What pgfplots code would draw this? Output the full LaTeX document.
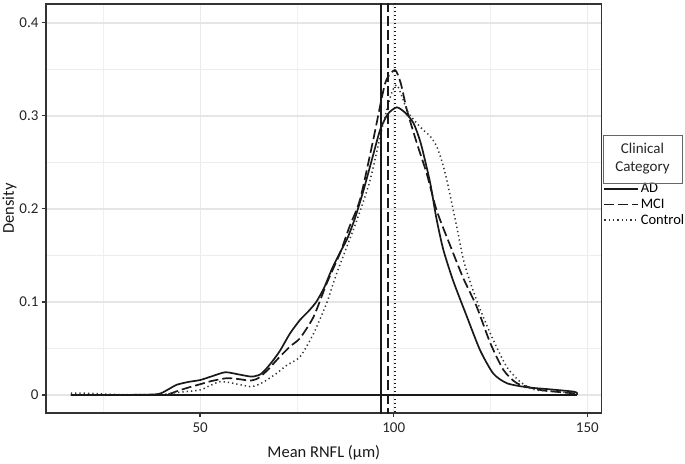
\documentclass[border=0pt]{standalone}
\usepackage{fontspec}
\setmainfont{Carlito}
\usepackage{pgfplots}
\pgfplotsset{compat=1.18}

% density estimates
\pgfplotstableread{
x y
16.6 0
30 0
38 0.0005
40 0.002
42 0.0065
44 0.011
47 0.014
50 0.016
53 0.02
56.5 0.0244
60 0.022
63.3 0.0197
65.5 0.022
67.2 0.0287
69 0.038
70.7 0.048
73.2 0.066
75.8 0.0806
78 0.09
80 0.1
82 0.115
84 0.135
86 0.152
88 0.168
90 0.19
92.2 0.22
94.5 0.255
96.5 0.285
98.5 0.302
100.8 0.309
103 0.303
105.1 0.292
107 0.27
109.4 0.228
111 0.19
112.8 0.156
115.4 0.122
118.9 0.084
122.3 0.048
125.7 0.023
129.2 0.0126
134.3 0.0083
140.4 0.006
146.4 0.0036
147.3 0.002
147.3 0
}\ad

\pgfplotstableread{
x y
16.6 0
40 0
42 0.001
44 0.004
47 0.008
50 0.0115
53 0.015
56.9 0.018
60 0.017
62.9 0.0154
65 0.018
67.5 0.027
69.8 0.0376
73.2 0.052
75.8 0.061
79.3 0.084
82.7 0.12
86.1 0.152
88.5 0.18
91.3 0.21
94.7 0.274
97.8 0.335
100.3 0.349
101.8 0.335
103.4 0.306
106 0.27
108.5 0.238
111.1 0.198
115 0.156
118 0.125
121.4 0.095
124.9 0.056
128.3 0.027
131.8 0.0126
137.8 0.0054
143 0.003
147 0.0015
147 0
}\mci

\pgfplotstableread{
x y
16.6 0.002
20 0.002
25 0.001
30 0.0003
40 0.0005
43 0.002
45 0.003
50 0.0054
52.5 0.01
55.2 0.0143
58 0.013
62.9 0.009
65 0.011
67.2 0.016
70 0.024
72.4 0.032
75.8 0.041
79.3 0.066
82.7 0.099
85.3 0.131
90.5 0.188
93.9 0.231
97.3 0.292
99.5 0.325
100.8 0.333
102 0.322
103.5 0.305
105.1 0.296
107.5 0.285
109.4 0.278
111.1 0.267
112.5 0.25
113.7 0.231
116.3 0.18
118 0.145
120 0.118
122.3 0.092
125.7 0.059
129.2 0.030
132.6 0.0143
136 0.006
140 0.004
147 0.002
147 0
}\ctrl

\begin{document}
\begin{tikzpicture}
\begin{axis}[
    width=555.7pt, height=409pt, scale only axis,
    xmin=10.2, xmax=153.7, ymin=-0.0194, ymax=0.42,
    xtick={50,100,150},
    ytick={0,0.1,0.2,0.3,0.4},
    yticklabels={0,0.1,0.2,0.3,0.4},
    minor xtick={25,75,125},
    minor ytick={0.05,0.15,0.25,0.35},
    grid=both,
    major x grid style={black!8, line width=0.8pt},
    minor x grid style={black!6, line width=0.8pt},
    major y grid style={black!10, line width=2pt},
    minor y grid style={black!7, line width=1pt},
    minor tick length=0pt,
    major tick length=4pt,
    tick align=outside,
    tick pos=left,
    tick style={black!80, line width=1.4pt},
    axis line style={black!80, line width=1.4pt},
    /pgf/number format/assume math mode=true,
    ticklabel style={font=\fontsize{15}{15}\selectfont, text=black!85},
    xticklabel style={yshift=-2pt},
    xlabel={Mean RNFL (µm)},
    ylabel={Density},
    label style={font=\fontsize{16.5}{16.5}\selectfont, text=black!90},
    xlabel style={yshift=-6pt},
    ylabel style={yshift=-4pt},
    legend style={at={(1.003,0.565)}, anchor=north west, draw=none, fill=none,
        font=\fontsize{14.5}{14.5}\selectfont, row sep=1.5pt, inner sep=0pt,
        nodes={inner sep=1.5pt}},
    legend cell align=left,
    legend image code/.code={\draw[#1] (0pt,0pt) -- (34pt,0pt);},
]
\addplot[black!90, line width=1.7pt, smooth, tension=0.4] table {\ad};
\addlegendentry{AD}
\addplot[black!90, line width=1.7pt, smooth, tension=0.4, dash pattern=on 10pt off 4pt] table {\mci};
\addlegendentry{MCI}
\addplot[black!80, line width=1.5pt, smooth, tension=0.4, dash pattern=on 1.3pt off 3pt] table {\ctrl};
\addlegendentry{Control}
\addplot[black!90, line width=1.7pt, forget plot] coordinates {(16.6,0) (147.3,0)};
\addplot[black!90, line width=1.7pt, forget plot] coordinates {(96.7,-0.1) (96.7,0.5)};
\addplot[black!90, line width=1.7pt, forget plot, dash pattern=on 10pt off 4pt] coordinates {(98.6,-0.1) (98.6,0.5)};
\addplot[black!90, line width=1.7pt, forget plot, dash pattern=on 1.5pt off 2.5pt] coordinates {(100.3,-0.1) (100.3,0.5)};
\end{axis}
\draw[black!60, line width=0.8pt] ([xshift=1.3pt, yshift=278pt]current axis.south east)
    rectangle ++(79pt,-48pt);
\node[align=center, font=\fontsize{15}{18}\selectfont, text=black!85]
    at ([xshift=40.8pt, yshift=254pt]current axis.south east) {Clinical\\Category};
\pgfresetboundingbox
\path (current axis.south west) ++(-46pt,-50pt) rectangle ++(685pt,463pt);
\end{tikzpicture}
\end{document}
